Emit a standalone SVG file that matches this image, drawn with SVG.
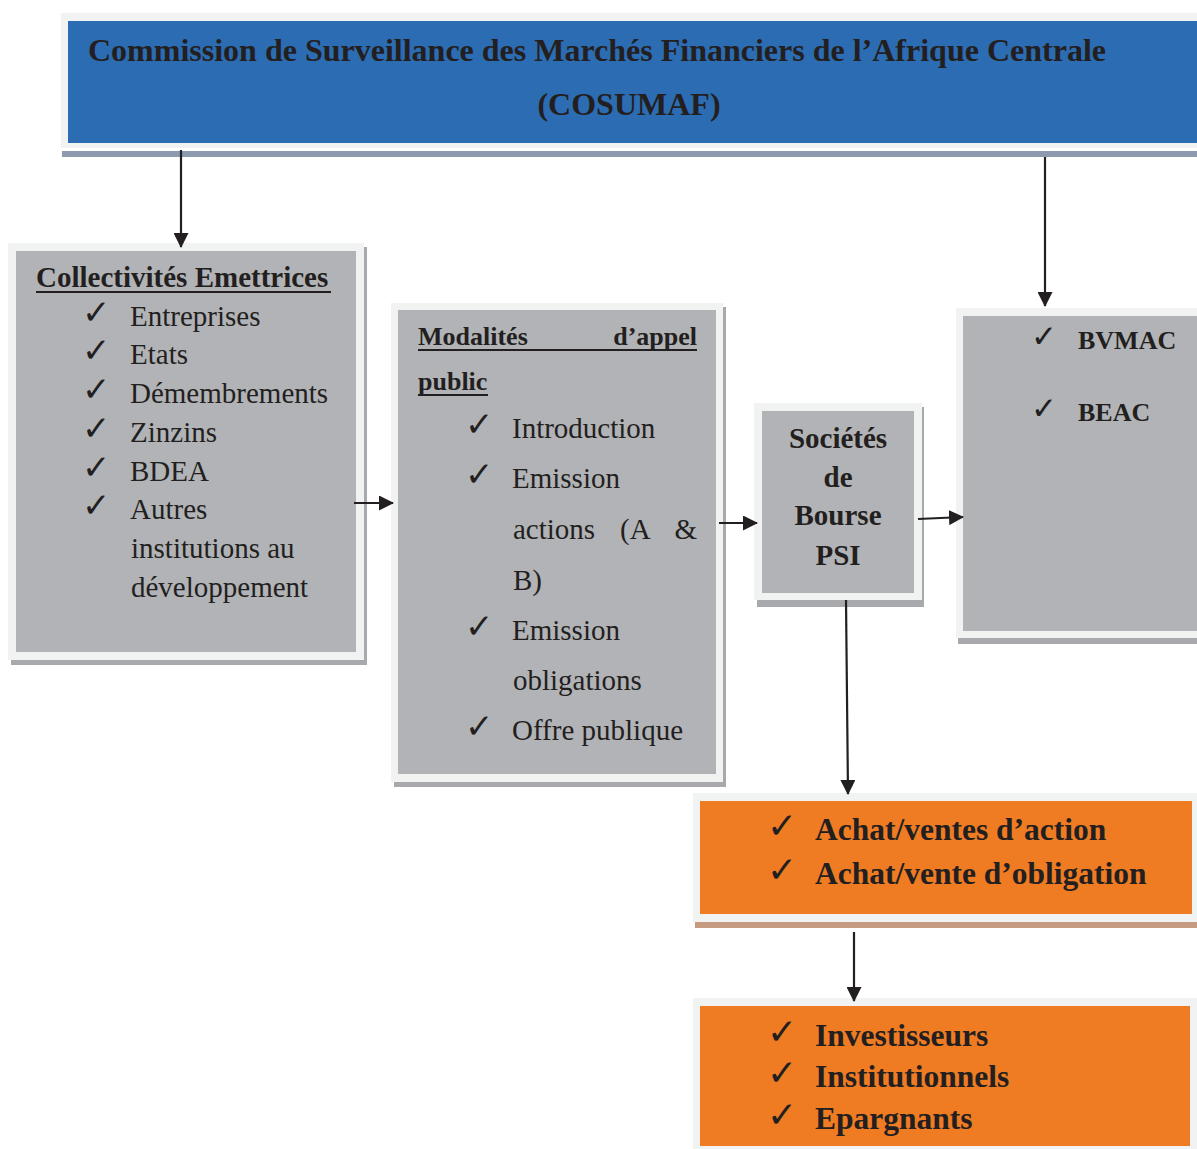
<svg xmlns="http://www.w3.org/2000/svg" width="1197" height="1149" viewBox="0 0 1197 1149">
<defs>
<marker id="ah" markerWidth="15" markerHeight="15" refX="14" refY="7.5" orient="auto" markerUnits="userSpaceOnUse">
<path d="M0,0 L15,7.5 L0,15 z" fill="#231f20"/>
</marker>
<style>
.frame{fill:#f1f2f2}
.gshadow{fill:#a7a9ac}
.gray{fill:#b1b3b6}
.blue{fill:#2b6cb3}
.orange{fill:#ef7b23}
.t{font-family:"Liberation Serif","Times New Roman",serif;fill:#231f20}
.b{font-weight:bold}
.ck{font-family:"DejaVu Sans",sans-serif;fill:#231f20}
.ul{stroke:#231f20;stroke-width:2}
.conn{stroke:#231f20;stroke-width:2.2;fill:none;marker-end:url(#ah)}
</style>
</defs>
<rect width="1197" height="1149" fill="#ffffff"/>

<g id="cosumaf">
<rect x="62" y="151" width="1135" height="6" fill="#8e9ab0"/>
<rect class="frame" x="61" y="13" width="1136" height="135"/>
<rect class="blue" x="68" y="21" width="1129" height="122"/>
<text class="t b" x="88" y="61" font-size="32">Commission de Surveillance des Marchés Financiers de l’Afrique Centrale</text>
<text class="t b" x="629" y="115" font-size="32" text-anchor="middle">(COSUMAF)</text>
</g>

<g id="collectivites">
<rect class="gshadow" x="11" y="247" width="356" height="418"/>
<rect class="frame" x="8" y="243" width="356" height="417"/>
<rect class="gray" x="16" y="251" width="340" height="401"/>
<text class="t b" x="36" y="287" font-size="29">Collectivités Emettrices</text>
<line class="ul" x1="36" y1="292" x2="331" y2="292"/>
<g font-size="34">
<text class="ck" x="82" y="324">✓</text>
<text class="ck" x="82" y="362">✓</text>
<text class="ck" x="82" y="401">✓</text>
<text class="ck" x="82" y="440">✓</text>
<text class="ck" x="82" y="479">✓</text>
<text class="ck" x="82" y="517">✓</text>
</g>
<g class="t" font-size="29">
<text x="130" y="326">Entreprises</text>
<text x="130" y="364">Etats</text>
<text x="130" y="403">Démembrements</text>
<text x="130" y="442">Zinzins</text>
<text x="130" y="481">BDEA</text>
<text x="130" y="519">Autres</text>
<text x="131" y="558">institutions au</text>
<text x="131" y="597">développement</text>
</g>
</g>

<g id="modalites">
<rect class="gshadow" x="394" y="307" width="332" height="480"/>
<rect class="frame" x="391" y="303" width="332" height="479"/>
<rect class="gray" x="398" y="310" width="318" height="464"/>
<g class="t b" font-size="26">
<text x="418" y="345">Modalités</text>
<text x="697" y="345" text-anchor="end">d’appel</text>
<text x="418" y="390">public</text>
</g>
<line class="ul" x1="418" y1="350" x2="697" y2="350"/>
<line class="ul" x1="418" y1="395" x2="488" y2="395"/>
<g font-size="34">
<text class="ck" x="465" y="436">✓</text>
<text class="ck" x="465" y="486">✓</text>
<text class="ck" x="465" y="638">✓</text>
<text class="ck" x="465" y="738">✓</text>
</g>
<g class="t" font-size="29">
<text x="512" y="438">Introduction</text>
<text x="512" y="488">Emission</text>
<text x="513" y="539">actions</text>
<text x="620" y="539">(A</text>
<text x="697" y="539" text-anchor="end">&amp;</text>
<text x="513" y="590">B)</text>
<text x="512" y="640">Emission</text>
<text x="513" y="690">obligations</text>
<text x="512" y="740">Offre publique</text>
</g>
</g>

<g id="societes">
<rect class="gshadow" x="757" y="407" width="167" height="200"/>
<rect class="frame" x="754" y="403" width="168" height="197"/>
<rect class="gray" x="762" y="411" width="152" height="182"/>
<g class="t b" font-size="29" text-anchor="middle">
<text x="838" y="448">Sociétés</text>
<text x="838" y="487">de</text>
<text x="838" y="525">Bourse</text>
<text x="838" y="565">PSI</text>
</g>
</g>

<g id="bvmac">
<rect class="gshadow" x="958" y="312" width="239" height="332"/>
<rect class="frame" x="956" y="308" width="241" height="330"/>
<rect class="gray" x="963" y="316" width="234" height="315"/>
<g font-size="31">
<text class="ck" x="1031" y="347">✓</text>
<text class="ck" x="1031" y="419">✓</text>
</g>
<g class="t b" font-size="26">
<text x="1078" y="349">BVMAC</text>
<text x="1078" y="421">BEAC</text>
</g>
</g>

<g id="achats">
<rect x="695" y="922" width="502" height="6" fill="#c49a80"/>
<rect class="frame" x="693" y="793" width="504" height="129"/>
<rect class="orange" x="700" y="801" width="492" height="113"/>
<g font-size="36">
<text class="ck" x="767" y="838">✓</text>
<text class="ck" x="767" y="882">✓</text>
</g>
<g class="t b" font-size="31.5">
<text x="815" y="840">Achat/ventes d’action</text>
<text x="815" y="884">Achat/vente d’obligation</text>
</g>
</g>

<g id="investisseurs">
<rect class="frame" x="693" y="998" width="504" height="151"/>
<rect class="orange" x="700" y="1006" width="490" height="140"/>
<g font-size="36">
<text class="ck" x="767" y="1044">✓</text>
<text class="ck" x="767" y="1085">✓</text>
<text class="ck" x="767" y="1127">✓</text>
</g>
<g class="t b" font-size="31.5">
<text x="815" y="1046">Investisseurs</text>
<text x="815" y="1087">Institutionnels</text>
<text x="815" y="1129">Epargnants</text>
</g>
</g>

<g id="connectors">
<line class="conn" x1="181" y1="150" x2="181" y2="247"/>
<line class="conn" x1="1045" y1="157" x2="1045" y2="306"/>
<line class="conn" x1="354" y1="503" x2="393" y2="503"/>
<line class="conn" x1="719" y1="523" x2="757" y2="523"/>
<line class="conn" x1="918" y1="519" x2="963" y2="517"/>
<line class="conn" x1="846" y1="600" x2="848" y2="794"/>
<line class="conn" x1="854" y1="932" x2="854" y2="1001"/>
</g>
</svg>
